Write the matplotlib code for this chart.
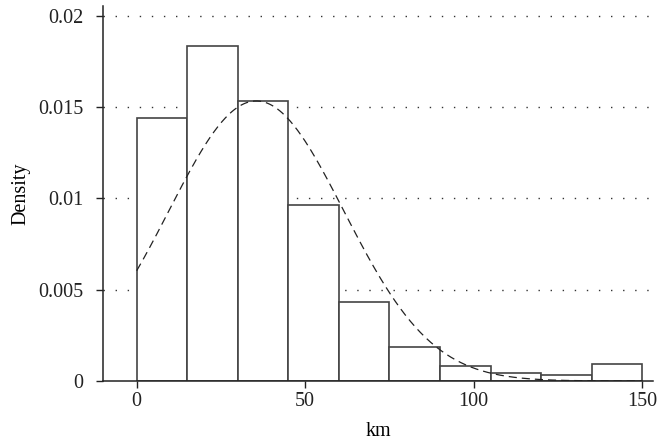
import numpy as np
import matplotlib
matplotlib.use("Agg")
import matplotlib.pyplot as plt

# histogram bins (km) and density values
bin_edges = [0, 15, 30, 45, 60, 75, 90, 105, 120, 135, 150]
densities = [0.01439, 0.01836, 0.01532, 0.00963, 0.00434,
             0.00185, 0.00084, 0.00042, 0.00031, 0.00093]

# fitted normal curve
mu = 35.5
sigma = 26.0

xticks = [0, 50, 100, 150]
yticks = [0, 0.005, 0.01, 0.015, 0.02]
yticklabels = ["0", "0.005", "0.01", "0.015", "0.02"]

plt.rcParams['font.family'] = ['Liberation Serif', 'DejaVu Serif']
plt.rcParams['font.size'] = 14.5

fig = plt.figure(figsize=(6.58, 4.47), dpi=100)
ax = fig.add_axes([0.1565, 0.1477, 0.8359, 0.839])

edges = np.array(bin_edges)
ax.bar(edges[:-1], densities, width=np.diff(edges), align='edge',
       facecolor='white', edgecolor='#444444', linewidth=1.2, zorder=2)

xs = np.linspace(0, 150, 400)
ys = np.exp(-(xs - mu) ** 2 / (2 * sigma ** 2)) / (sigma * np.sqrt(2 * np.pi))
ax.plot(xs, ys, color='#222222', linestyle=(0, (6.5, 4)), linewidth=0.9, zorder=3)

# dotted horizontal grid
for y in yticks[1:]:
    ax.axhline(y, color='#333333', linewidth=1.0, linestyle=(0, (1, 7.7)), zorder=1)

ax.set_xlim(-10, 153.2)
ax.set_ylim(0, 0.02055)
ax.set_xticks(xticks)
ax.set_yticks(yticks)
ax.set_yticklabels(yticklabels)

for s in ['top', 'right']:
    ax.spines[s].set_visible(False)
for s in ['left', 'bottom']:
    ax.spines[s].set_color('#222222')
    ax.spines[s].set_linewidth(1.1)
ax.tick_params(direction='out', length=5, width=1, color='#222222',
               labelcolor='#222222')
ax.tick_params(axis='x', pad=3)
ax.tick_params(axis='y', pad=9)

ax.set_xlabel('km', labelpad=8)
ax.set_ylabel('Density', labelpad=6)

fig.savefig('out.png', dpi=100)
